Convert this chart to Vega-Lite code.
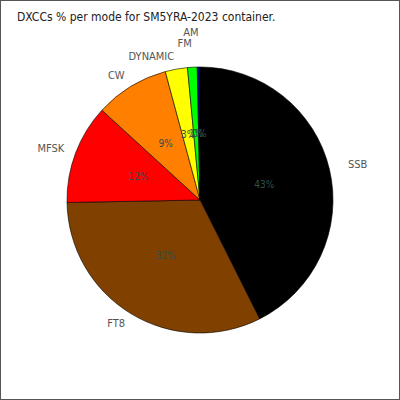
{
  "$schema": "https://vega.github.io/schema/vega-lite/v6.json",
  "width": 400,
  "height": 400,
  "autosize": {"type": "none"},
  "padding": 0,
  "background": "white",
  "view": {"stroke": "#555555", "strokeWidth": 2},
  "title": {
    "text": "DXCCs % per mode for SM5YRA-2023 container.",
    "anchor": "start",
    "offset": -24,
    "dx": 17,
    "fontSize": 12,
    "fontWeight": "normal",
    "font": "DejaVu Sans Condensed, Liberation Sans, sans-serif",
    "color": "#222222"
  },
  "data": {
    "values": [
      {"mode": "SSB", "share": 0.426},
      {"mode": "FT8", "share": 0.321},
      {"mode": "MFSK", "share": 0.121},
      {"mode": "CW", "share": 0.090},
      {"mode": "DYNAMIC", "share": 0.027},
      {"mode": "FM", "share": 0.0117},
      {"mode": "AM", "share": 0.0033}
    ]
  },
  "encoding": {
    "theta": {"field": "share", "type": "quantitative", "stack": true},
    "order": {"field": "share", "type": "quantitative", "sort": "descending"}
  },
  "layer": [
    {
      "mark": {"type": "arc", "outerRadius": 133, "stroke": "#000000", "strokeWidth": 0.6},
      "encoding": {
        "color": {
          "field": "mode",
          "type": "nominal",
          "scale": {
            "domain": ["SSB", "FT8", "MFSK", "CW", "DYNAMIC", "FM", "AM"],
            "range": ["#000000", "#804000", "#ff0000", "#ff8000", "#ffff00", "#00ff00", "#000080"]
          },
          "legend": null
        }
      }
    },
    {
      "mark": {"type": "text", "radius": 66, "font": "DejaVu Sans Condensed, Liberation Sans, sans-serif", "fontSize": 10, "color": "#2f4f4f"},
      "encoding": {"text": {"field": "share", "type": "quantitative", "format": ".0%"}}
    },
    {
      "mark": {"type": "text", "radius": 152, "align": "left", "font": "DejaVu Sans Condensed, Liberation Sans, sans-serif", "fontSize": 11, "color": "#555555"},
      "encoding": {"text": {"condition": {"test": "datum.mode === 'SSB'", "field": "mode", "type": "nominal"}, "value": ""}}
    },
    {
      "mark": {"type": "text", "radius": 145, "align": "right", "font": "DejaVu Sans Condensed, Liberation Sans, sans-serif", "fontSize": 11, "color": "#555555"},
      "encoding": {"text": {"condition": {"test": "indexof(['FT8','MFSK','CW','DYNAMIC'], datum.mode) >= 0", "field": "mode", "type": "nominal"}, "value": ""}}
    },
    {
      "mark": {"type": "text", "radius": 145, "align": "right", "dy": -11, "font": "DejaVu Sans Condensed, Liberation Sans, sans-serif", "fontSize": 11, "color": "#555555"},
      "encoding": {"text": {"condition": {"test": "datum.mode === 'FM'", "field": "mode", "type": "nominal"}, "value": ""}}
    },
    {
      "mark": {"type": "text", "radius": 145, "align": "right", "dy": -22, "font": "DejaVu Sans Condensed, Liberation Sans, sans-serif", "fontSize": 11, "color": "#555555"},
      "encoding": {"text": {"condition": {"test": "datum.mode === 'AM'", "field": "mode", "type": "nominal"}, "value": ""}}
    }
  ]
}
